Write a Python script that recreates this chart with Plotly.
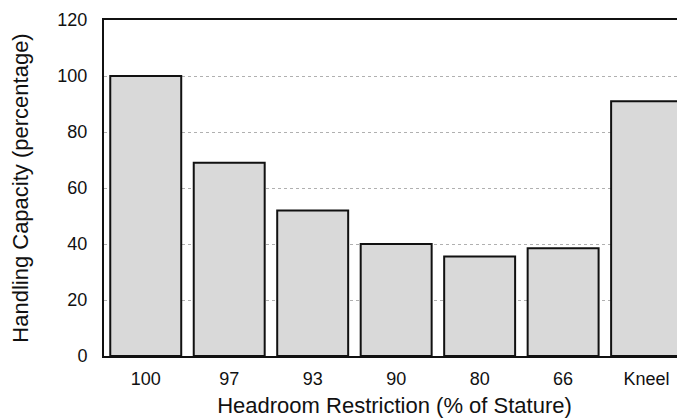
import plotly.graph_objects as go

# datos
categorias = ['100', '97', '93', '90', '80', '66', 'Kneel']
capacidad = [100, 69, 52, 40, 35.5, 38.5, 91]

fig = go.Figure(go.Bar(x=categorias, y=capacidad,
                       width=0.85,
                       marker={'color': '#d9d9d9',
                               'line': {'color': '#111111', 'width': 2}}))

# la pagina tiene un margen de 8px en el body, se compensa en el tamaño
fig.update_layout(width=677, height=412,
                  margin=dict(l=96, r=0, t=12, b=64),
                  plot_bgcolor='white', paper_bgcolor='white',
                  font=dict(family='Liberation Sans, Arial', size=18, color='#111111'),
                  showlegend=False)

fig.update_xaxes(title_text='Headroom Restriction (% of Stature)',
                 title_font=dict(size=22), title_standoff=10,
                 range=[-0.5, 6.46],
                 showline=True, linecolor='#111111', linewidth=2, mirror=True,
                 ticks='outside', ticklen=5, tickcolor='white', showgrid=False)

fig.update_yaxes(title_text='Handling Capacity (percentage)',
                 title_font=dict(size=22), title_standoff=26,
                 range=[0, 120], dtick=20,
                 showline=True, linecolor='#111111', linewidth=2,
                 ticks='outside', ticklen=11, tickcolor='white',
                 showgrid=True, gridcolor='#b0b0b0', griddash='dot',
                 gridwidth=1, zeroline=False)

fig.write_html("out.html")
